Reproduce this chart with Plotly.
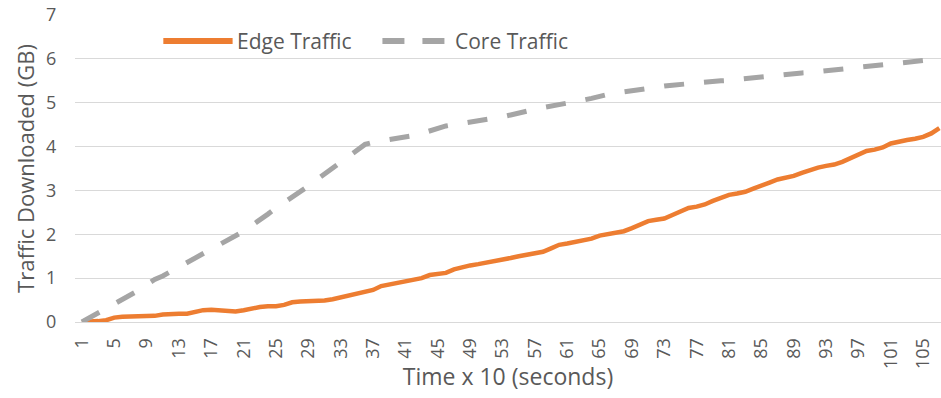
import plotly.graph_objects as go

time_idx = list(range(1, 108))

edge_traffic = [
    0.0, 0.0, 0.02, 0.04, 0.1, 0.12, 0.12, 0.12, 0.12, 0.14,
    0.17, 0.19, 0.19, 0.19, 0.23, 0.27, 0.28, 0.27, 0.24, 0.24,
    0.27, 0.31, 0.34, 0.36, 0.36, 0.39, 0.45, 0.47, 0.47, 0.47,
    0.49, 0.52, 0.56, 0.6, 0.63, 0.67, 0.73, 0.82, 0.86, 0.88,
    0.93, 0.96, 1.0, 1.07, 1.1, 1.12, 1.2, 1.25, 1.29, 1.32,
    1.35, 1.4, 1.43, 1.46, 1.5, 1.54, 1.58, 1.6, 1.68, 1.76,
    1.79, 1.82, 1.85, 1.9, 1.97, 2.0, 2.03, 2.07, 2.14, 2.22,
    2.3, 2.33, 2.36, 2.44, 2.53, 2.6, 2.63, 2.68, 2.76, 2.84,
    2.9, 2.93, 2.97, 3.04, 3.1, 3.18, 3.25, 3.28, 3.33, 3.4,
    3.47, 3.52, 3.56, 3.59, 3.65, 3.73, 3.83, 3.9, 3.93, 3.98,
    4.07, 4.12, 4.15, 4.18, 4.22, 4.3, 4.42,
]

core_traffic = [
    0.0, 0.1, 0.2, 0.3, 0.4, 0.5, 0.6, 0.72, 0.85, 0.97,
    1.05, 1.15, 1.27, 1.38, 1.48, 1.57, 1.67, 1.76, 1.86, 1.97,
    2.07, 2.2, 2.32, 2.46, 2.6, 2.72, 2.85, 2.97, 3.1, 3.24,
    3.38, 3.52, 3.66, 3.8, 3.94, 4.05, 4.1, 4.13, 4.15, 4.18,
    4.2, 4.25, 4.3, 4.36, 4.42, 4.47, 4.5, 4.53, 4.56, 4.58,
    4.6, 4.64, 4.68, 4.72, 4.77, 4.81, 4.85, 4.89, 4.92, 4.95,
    4.98, 5.02, 5.06, 5.1, 5.15, 5.19, 5.22, 5.25, 5.28, 5.31,
    5.34, 5.36, 5.38, 5.4, 5.42, 5.44, 5.45, 5.47, 5.48, 5.5,
    5.51, 5.53, 5.55, 5.58, 5.6, 5.62, 5.63, 5.65, 5.66, 5.68,
    5.69, 5.71, 5.73, 5.75, 5.77, 5.79, 5.81, 5.83, 5.85, 5.87,
    5.89, 5.9, 5.92, 5.94, 5.96, 5.98, 6.0,
]

series_names = ["Edge Traffic", "Core Traffic"]
series_colors = ["#ED7D31", "#A5A5A5"]

x_ticks = list(range(1, 106, 4))
y_ticks = [0, 1, 2, 3, 4, 5, 6, 7]

TEXT = "#595959"
GRID = "#d9d9d9"
FONT = "Open Sans"

fig = go.Figure()
fig.add_trace(go.Scatter(
    x=time_idx, y=edge_traffic, mode="lines", name=series_names[0],
    line=dict(color=series_colors[0], width=4.5), showlegend=False,
))
fig.add_trace(go.Scatter(
    x=time_idx, y=core_traffic, mode="lines", name=series_names[1],
    line=dict(color=series_colors[1], width=5, dash="20px,20px"), showlegend=False,
))

# Legend drawn inside the plot (Excel style, long line samples)
LEG_Y = 0.915
fig.add_shape(type="line", xref="paper", yref="paper",
              x0=0.102, x1=0.182, y0=LEG_Y, y1=LEG_Y,
              line=dict(color=series_colors[0], width=6))
fig.add_annotation(xref="paper", yref="paper", x=0.185, y=LEG_Y,
                   xanchor="left", yanchor="middle", showarrow=False,
                   text=series_names[0], font=dict(size=21, color=TEXT, family=FONT))
fig.add_shape(type="line", xref="paper", yref="paper",
              x0=0.355, x1=0.43, y0=LEG_Y, y1=LEG_Y,
              line=dict(color=series_colors[1], width=6, dash="22px,18px"))
fig.add_annotation(xref="paper", yref="paper", x=0.437, y=LEG_Y,
                   xanchor="left", yanchor="middle", showarrow=False,
                   text=series_names[1], font=dict(size=21, color=TEXT, family=FONT))

fig.update_layout(
    width=941, height=398,
    margin=dict(l=75, r=0, t=15, b=76),
    paper_bgcolor="white", plot_bgcolor="white",
    font=dict(family=FONT, color=TEXT, size=16),
    showlegend=False,
    xaxis=dict(
        range=[0.15, 107.2], tickmode="array", tickvals=x_ticks,
        ticktext=[str(v) for v in x_ticks], tickangle=-90,
        showgrid=False, zeroline=False,
        showline=True, linecolor=GRID, linewidth=1,
        ticks="outside", ticklen=8, tickcolor="rgba(0,0,0,0)",
        tickfont=dict(size=18, color=TEXT, family=FONT),
        title=dict(text="Time x 10 (seconds)", standoff=0,
                   font=dict(size=23, color=TEXT, family=FONT)),
    ),
    yaxis=dict(
        range=[0, 7], tickmode="array", tickvals=y_ticks,
        showgrid=True, gridcolor=GRID, gridwidth=1,
        zeroline=False, showline=False,
        ticks="outside", ticklen=14, tickcolor="rgba(0,0,0,0)",
        tickfont=dict(size=18, color=TEXT, family=FONT),
        title=dict(text="Traffic Downloaded (GB)", standoff=5,
                   font=dict(size=22, color=TEXT, family=FONT)),
    ),
)

fig.write_html("out.html")
